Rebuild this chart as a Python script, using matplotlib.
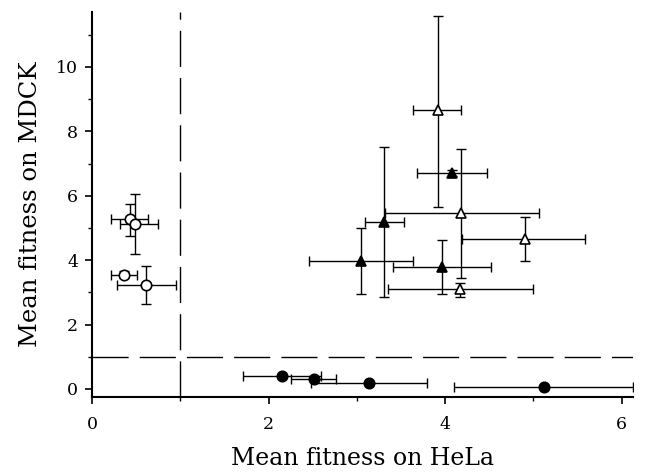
import matplotlib
matplotlib.use("Agg")
import matplotlib.pyplot as plt
from matplotlib.ticker import MultipleLocator

# Open circles
oc_x = [0.43, 0.49, 0.36, 0.61]
oc_y = [5.27, 5.12, 3.54, 3.23]
oc_xlo = [0.21, 0.32, 0.21, 0.28]
oc_xhi = [0.63, 0.75, 0.51, 0.95]
oc_ylo = [4.76, 4.19, 3.44, 2.64]
oc_yhi = [5.74, 6.06, 3.66, 3.82]

# Filled circles
fc_x = [2.15, 2.52, 3.14, 5.12]
fc_y = [0.41, 0.31, 0.18, 0.07]
fc_xlo = [1.71, 2.26, 2.48, 4.10]
fc_xhi = [2.59, 2.77, 3.79, 6.13]

# Open triangles
ot_x = [3.92, 4.18, 4.90, 4.17]
ot_y = [8.66, 5.45, 4.65, 3.10]
ot_xlo = [3.64, 3.32, 4.19, 3.35]
ot_xhi = [4.18, 5.06, 5.59, 5.00]
ot_ylo = [5.66, 3.46, 3.98, 2.85]
ot_yhi = [11.58, 7.44, 5.35, 3.30]

# Filled triangles
ft_x = [4.08, 3.31, 3.05, 3.96]
ft_y = [6.70, 5.20, 3.98, 3.80]
ft_xlo = [3.68, 3.09, 2.46, 3.41]
ft_xhi = [4.48, 3.54, 3.64, 4.52]
ft_ylo = [6.60, 2.87, 2.94, 2.94]
ft_yhi = [6.80, 7.50, 4.99, 4.63]

threshold_x = 1.0
threshold_y = 1.0

plt.rcParams['font.family'] = ['DejaVu Serif']

fig = plt.figure(figsize=(6.5, 4.76), dpi=100)
ax = fig.add_axes([0.1415, 0.166, 0.974 - 0.1415, 0.975 - 0.166])

def eb(x, y, xlo, xhi, ylo, yhi, marker, face, ms):
    xerr = [[xi - a for xi, a in zip(x, xlo)], [b - xi for xi, b in zip(x, xhi)]]
    if ylo is not None:
        yerr = [[yi - a for yi, a in zip(y, ylo)], [b - yi for yi, b in zip(y, yhi)]]
    else:
        yerr = None
    ax.errorbar(x, y, xerr=xerr, yerr=yerr, fmt='none', ecolor='black',
                elinewidth=1.0, capsize=3.5, capthick=1.0, zorder=2)
    ax.plot(x, y, linestyle='none', marker=marker, markerfacecolor=face,
            markeredgecolor='black', markeredgewidth=1.2, markersize=ms, zorder=3)

ax.axvline(threshold_x, color='black', lw=1.0, dashes=(26, 8), zorder=1)
ax.axhline(threshold_y, color='black', lw=1.0, dashes=(26, 8), zorder=1)

eb(oc_x, oc_y, oc_xlo, oc_xhi, oc_ylo, oc_yhi, 'o', 'white', 7.5)
eb(fc_x, fc_y, fc_xlo, fc_xhi, None, None, 'o', 'black', 7.5)
eb(ot_x, ot_y, ot_xlo, ot_xhi, ot_ylo, ot_yhi, '^', 'white', 6.5)
eb(ft_x, ft_y, ft_xlo, ft_xhi, ft_ylo, ft_yhi, '^', 'black', 6.5)

ax.set_xlim(0, 6.13)
ax.set_ylim(-0.25, 11.71)
ax.xaxis.set_major_locator(MultipleLocator(2))
ax.xaxis.set_minor_locator(MultipleLocator(1))
ax.yaxis.set_major_locator(MultipleLocator(2))
ax.yaxis.set_minor_locator(MultipleLocator(1))

for s in ['top', 'right']:
    ax.spines[s].set_visible(False)
for s in ['left', 'bottom']:
    ax.spines[s].set_linewidth(1.5)

ax.tick_params(which='major', direction='out', length=5, width=1.2, labelsize=12.5)
ax.tick_params(axis='x', which='major', pad=9)
ax.tick_params(axis='y', which='major', pad=5)
ax.tick_params(which='minor', direction='out', length=3, width=1.0)

ax.set_xlabel('Mean fitness on HeLa', fontsize=17, labelpad=10)
ax.set_ylabel('Mean fitness on MDCK', fontsize=17.5, labelpad=10)

fig.savefig('out.png', dpi=100)
